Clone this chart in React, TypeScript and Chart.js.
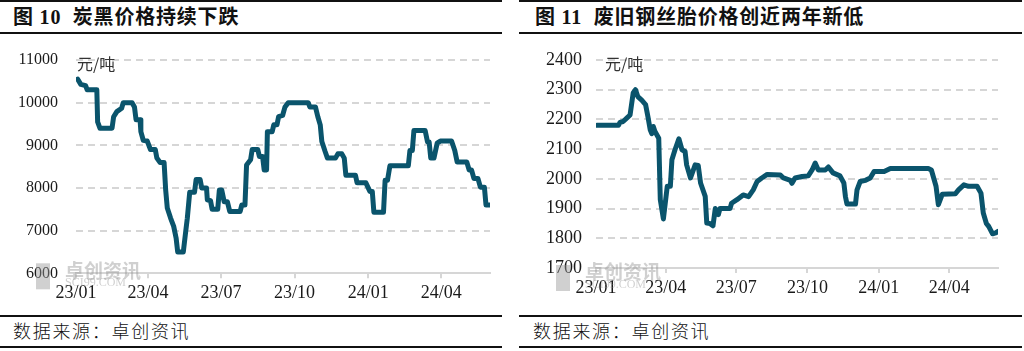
import React, { useEffect, useRef } from "react";
import { Chart, registerables } from "chart.js";

Chart.register(...registerables);

// ---------- DATA ----------
const carbonDates = [
  "2023-01-03", "2023-01-07", "2023-01-13", "2023-01-15", "2023-01-27", "2023-01-28", "2023-01-31",
  "2023-02-15", "2023-02-17", "2023-02-21", "2023-02-27", "2023-03-01", "2023-03-12", "2023-03-15",
  "2023-03-17", "2023-03-22", "2023-03-23", "2023-03-26", "2023-03-31", "2023-04-04", "2023-04-10",
  "2023-04-12", "2023-04-16", "2023-04-21", "2023-04-23", "2023-04-25", "2023-04-29", "2023-05-03",
  "2023-05-06", "2023-05-08", "2023-05-15", "2023-05-18", "2023-05-20", "2023-05-23", "2023-05-29",
  "2023-05-31", "2023-06-05", "2023-06-07", "2023-06-13", "2023-06-14", "2023-06-18", "2023-06-20",
  "2023-06-27", "2023-06-29", "2023-07-02", "2023-07-05", "2023-07-09", "2023-07-12", "2023-07-25",
  "2023-07-27", "2023-07-31", "2023-08-02", "2023-08-07", "2023-08-09", "2023-08-16", "2023-08-18",
  "2023-08-22", "2023-08-24", "2023-08-27", "2023-08-28", "2023-09-03", "2023-09-05", "2023-09-09",
  "2023-09-11", "2023-09-16", "2023-09-19", "2023-09-23", "2023-10-18", "2023-10-20", "2023-10-27",
  "2023-10-30", "2023-11-02", "2023-11-04", "2023-11-08", "2023-11-11", "2023-11-21", "2023-11-24",
  "2023-11-29", "2023-12-02", "2023-12-04", "2023-12-16", "2023-12-18", "2023-12-29", "2024-01-03",
  "2024-01-06", "2024-01-08", "2024-01-20", "2024-01-22", "2024-01-25", "2024-01-28", "2024-02-20",
  "2024-02-22", "2024-02-25", "2024-02-27", "2024-03-12", "2024-03-15", "2024-03-17", "2024-03-19",
  "2024-03-23", "2024-03-27", "2024-03-31", "2024-04-14", "2024-04-18", "2024-04-21", "2024-05-03",
  "2024-05-06", "2024-05-09", "2024-05-12", "2024-05-17", "2024-05-20", "2024-05-25", "2024-05-27",
  "2024-06-01",
];
const carbonPrices = [
  10550, 10430, 10400, 10300, 10300, 9550, 9400,
  9400, 9670, 9790, 9870, 10000, 10000, 9900,
  9600, 9600, 9320, 9120, 9100, 8900, 8900,
  8700, 8600, 8600, 7950, 7530, 7300, 7100,
  6830, 6500, 6500, 6980, 7290, 7900, 7900,
  8200, 8200, 8000, 8000, 7720, 7700, 7500,
  7500, 7950, 7950, 7680, 7680, 7450, 7450,
  7600, 7600, 8540, 8660, 8900, 8900, 8740,
  8740, 8420, 8420, 9320, 9320, 9480, 9480,
  9670, 9700, 9900, 10000, 10000, 9900, 9900,
  9670, 9480, 9090, 8860, 8700, 8700, 8800,
  8800, 8700, 8300, 8300, 8120, 8120, 7920,
  7920, 7430, 7430, 8180, 8180, 8520, 8520,
  8880, 8880, 9350, 9350, 9080, 9080, 8700,
  8700, 9050, 9100, 9100, 8880, 8610, 8610,
  8420, 8420, 8220, 8220, 8020, 8020, 7600,
  7600,
];

const tireDates = [
  "2023-01-02", "2023-01-30", "2023-02-01", "2023-02-05", "2023-02-10", "2023-02-14", "2023-02-18",
  "2023-02-21", "2023-02-24", "2023-03-01", "2023-03-06", "2023-03-09", "2023-03-12", "2023-03-14",
  "2023-03-16", "2023-03-18", "2023-03-23", "2023-03-25", "2023-03-29", "2023-04-03", "2023-04-07",
  "2023-04-09", "2023-04-13", "2023-04-18", "2023-04-22", "2023-04-26", "2023-04-28", "2023-05-03",
  "2023-05-09", "2023-05-13", "2023-05-16", "2023-05-22", "2023-05-24", "2023-05-28", "2023-06-01",
  "2023-06-04", "2023-06-08", "2023-06-10", "2023-06-23", "2023-06-25", "2023-07-02", "2023-07-10",
  "2023-07-17", "2023-07-23", "2023-07-28", "2023-08-03", "2023-08-10", "2023-08-27", "2023-08-31",
  "2023-09-09", "2023-09-11", "2023-09-15", "2023-09-24", "2023-10-02", "2023-10-07", "2023-10-11",
  "2023-10-15", "2023-10-24", "2023-10-28", "2023-11-03", "2023-11-12", "2023-11-17", "2023-11-19",
  "2023-11-21", "2023-12-02", "2023-12-04", "2023-12-08", "2023-12-15", "2023-12-21", "2023-12-26",
  "2024-01-08", "2024-01-16", "2024-03-05", "2024-03-09", "2024-03-15", "2024-03-18", "2024-03-23",
  "2024-04-09", "2024-04-13", "2024-04-20", "2024-04-26", "2024-05-07", "2024-05-12", "2024-05-15",
  "2024-05-19", "2024-05-22", "2024-05-27", "2024-05-31", "2024-06-03",
];
const tirePrices = [
  2180, 2180, 2190, 2193, 2205, 2215, 2289,
  2300, 2277, 2265, 2250, 2210, 2165, 2152,
  2176, 2160, 2137, 1930, 1865, 1975, 1975,
  2064, 2098, 2135, 2098, 2092, 2047, 2003,
  2047, 2045, 1986, 1941, 1851, 1850, 1842,
  1900, 1880, 1900, 1900, 1918, 1930, 1946,
  1940, 1963, 1991, 2003, 2015, 2013, 2003,
  1995, 1985, 2003, 2008, 2010, 2030, 2053,
  2030, 2030, 2040, 2020, 2010, 1986, 1941,
  1915, 1915, 1963, 1991, 1995, 2003, 2025,
  2025, 2035, 2035, 2030, 1975, 1913, 1948,
  1950, 1963, 1980, 1975, 1975, 1952, 1885,
  1850, 1840, 1815, 1818, 1823,
];

const quarterDates = ["2023-01-01", "2023-04-01", "2023-07-01", "2023-10-01", "2024-01-01", "2024-04-01"];
const quarterLabels = ["23/01", "23/04", "23/07", "23/10", "24/01", "24/04"];
const carbonYTicks = [6000, 7000, 8000, 9000, 10000, 11000];
const tireYTicks = [1700, 1800, 1900, 2000, 2100, 2200, 2300, 2400];

const leftTitle = "图 10  炭黑价格持续下跌";
const rightTitle = "图 11  废旧钢丝胎价格创近两年新低";
const sourceText = "数据来源：卓创资讯";
const unitText = "元/吨";
const wmText = "卓创资讯";
const wmSub = "SCI99.COM";

// ---------- HELPERS ----------
const LINE = "#0a546c";
const GRID = "#d6d6d6";
const BASE = Date.UTC(2023, 0, 1);
const dayOf = (s: string) => {
  const [y, m, d] = s.split("-").map(Number);
  return (Date.UTC(y, m - 1, d) - BASE) / 86400000;
};

function overlay(unitDx: number, unitDy: number, wmDy: number) {
  return {
    id: "overlay",
    afterDraw(chart: any) {
      const { ctx, chartArea } = chart;
      ctx.save();
      // watermark
      const by = chartArea.bottom + wmDy;
      ctx.fillStyle = "rgba(150,150,150,0.45)";
      ctx.fillRect(chartArea.left - 40, by, 14, 26);
      ctx.textAlign = "left";
      ctx.textBaseline = "middle";
      ctx.font = 'bold 19px "Noto Sans CJK SC"';
      ctx.fillText(wmText, chartArea.left - 11, by + 7);
      ctx.font = '12px "Liberation Serif"';
      ctx.fillText(wmSub, chartArea.left - 11, by + 20);
      // unit label
      ctx.fillStyle = "#333";
      ctx.font = '16px "Noto Sans CJK SC"';
      ctx.fillText(unitText, chartArea.left + unitDx, chartArea.top + unitDy);
      ctx.restore();
    },
  };
}

type Cfg = {
  dates: string[];
  values: number[];
  yTicks: number[];
  yAxisWidth: number;
  yPad: number;
  yFont: number;
  xAxisHeight: number;
  rightPad: number;
  unitDx: number;
  unitDy: number;
  wmDy: number;
};

function makeConfig(c: Cfg): any {
  const data = c.dates.map((d, i) => ({ x: dayOf(d), y: c.values[i] }));
  const tickDays = quarterDates.map(dayOf);
  const yMin = c.yTicks[0];
  const yMax = c.yTicks[c.yTicks.length - 1];
  return {
    type: "line",
    data: {
      datasets: [
        {
          data,
          borderColor: LINE,
          borderWidth: 5,
          pointRadius: 0,
          tension: 0,
          fill: false,
          borderJoinStyle: "round",
          borderCapStyle: "round",
        },
      ],
    },
    options: {
      animation: false,
      responsive: false,
      maintainAspectRatio: false,
      layout: { padding: { top: 15, right: c.rightPad, left: 0, bottom: 0 } },
      plugins: { legend: { display: false }, tooltip: { enabled: false } },
      scales: {
        x: {
          type: "linear",
          min: 0,
          max: data[data.length - 1].x,
          afterBuildTicks: (s: any) => {
            s.ticks = tickDays.map((v) => ({ value: v }));
          },
          afterFit: (s: any) => {
            s.height = c.xAxisHeight;
          },
          ticks: {
            autoSkip: false,
            maxRotation: 0,
            padding: 4,
            color: "#1a1a1a",
            font: { family: "Liberation Serif", size: 18 },
            callback: (v: number) => {
              const i = tickDays.indexOf(v);
              return i >= 0 ? quarterLabels[i] : "";
            },
          },
          grid: { drawOnChartArea: false, drawTicks: true, tickLength: 5, color: GRID, lineWidth: 2 },
          border: { display: true, color: GRID, width: 2 },
        },
        y: {
          min: yMin,
          max: yMax,
          afterBuildTicks: (s: any) => {
            s.ticks = c.yTicks.map((v) => ({ value: v }));
          },
          afterFit: (s: any) => {
            s.width = c.yAxisWidth;
          },
          ticks: {
            padding: 0,
            color: "#1a1a1a",
            font: { family: "Liberation Serif", size: c.yFont },
            callback: (v: number) => String(v),
          },
          grid: {
            drawTicks: true,
            tickLength: c.yPad,
            tickColor: "rgba(0,0,0,0)",
            lineWidth: 2,
            color: (ctx: any) => (ctx.tick && ctx.tick.value === yMin ? "rgba(0,0,0,0)" : GRID),
          },
          border: { display: false, dash: [7, 5] },
        },
      },
    },
    plugins: [overlay(c.unitDx, c.unitDy, c.wmDy)],
  };
}

function LineChart({ cfg, left }: { cfg: Cfg; left: number }) {
  const ref = useRef<HTMLCanvasElement | null>(null);
  useEffect(() => {
    if (!ref.current) return;
    const chart = new Chart(ref.current, makeConfig(cfg));
    return () => chart.destroy();
  }, []);
  return (
    <canvas
      ref={ref}
      width={500}
      height={265}
      style={{ position: "absolute", left, top: 45, width: 500, height: 265 }}
    />
  );
}

const rule = (left: number, top: number, width: number) => (
  <div style={{ position: "absolute", left, top, width, height: 2, background: "#111" }} />
);

const titleStyle: React.CSSProperties = {
  position: "absolute",
  top: 5,
  font: 'bold 20px "Liberation Serif", "Noto Sans CJK SC"',
  letterSpacing: "0.8px",
  lineHeight: "24px",
  whiteSpace: "pre",
  color: "#111",
};
const footStyle: React.CSSProperties = {
  position: "absolute",
  top: 319,
  font: '300 18px "Noto Sans CJK SC"',
  letterSpacing: "1.7px",
  lineHeight: "22px",
  whiteSpace: "pre",
  color: "#111",
};

export default function App() {
  const leftCfg: Cfg = {
    dates: carbonDates,
    values: carbonPrices,
    yTicks: carbonYTicks,
    yAxisWidth: 76,
    yPad: 18,
    yFont: 16,
    xAxisHeight: 36.7,
    rightPad: 10,
    unitDx: 1,
    unitDy: 4,
    wmDy: -10,
  };
  const rightCfg: Cfg = {
    dates: tireDates,
    values: tirePrices,
    yTicks: tireYTicks,
    yAxisWidth: 84,
    yPad: 14,
    yFont: 18,
    xAxisHeight: 42,
    rightPad: 14,
    unitDx: 9,
    unitDy: 4,
    wmDy: -3,
  };
  return (
    <div style={{ position: "absolute", left: 0, top: 0, width: 1024, height: 351, background: "#fff", overflow: "hidden" }}>
      {rule(0, 0, 502)}
      {rule(0, 32, 502)}
      {rule(0, 315, 502)}
      {rule(0, 346, 502)}
      {rule(519, 0, 503)}
      {rule(519, 32, 503)}
      {rule(519, 315, 503)}
      {rule(519, 346, 503)}
      <div style={{ ...titleStyle, left: 13 }}>{leftTitle}</div>
      <div style={{ ...titleStyle, left: 535 }}>{rightTitle}</div>
      <LineChart cfg={leftCfg} left={0} />
      <LineChart cfg={rightCfg} left={512} />
      <div style={{ ...footStyle, left: 13 }}>{sourceText}</div>
      <div style={{ ...footStyle, left: 533 }}>{sourceText}</div>
    </div>
  );
}
